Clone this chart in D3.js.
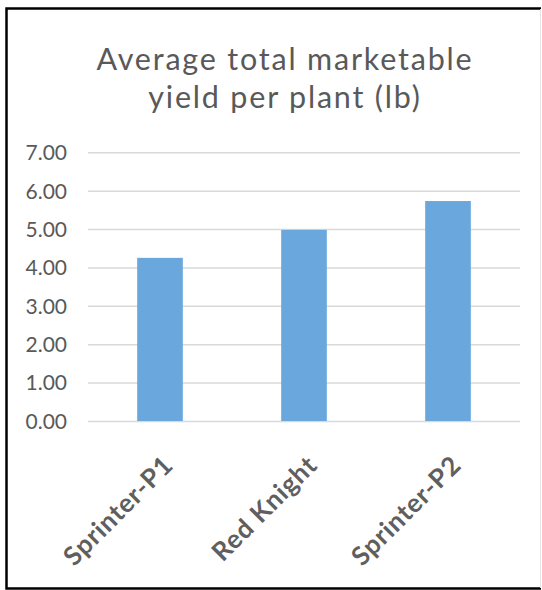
<!DOCTYPE html>
<html>
<head>
<meta charset="utf-8">
<script src="https://cdn.jsdelivr.net/npm/d3@7"></script>
<style>
  body { margin: 0; background: #fff; }
  svg { display: block; font-family: Lato, "Open Sans", sans-serif; }
</style>
</head>
<body>
<div id="chart"></div>
<script>
// data
const categories = ["Sprinter-P1", "Red Knight", "Sprinter-P2"]
const yieldValues = [4.25, 4.98, 5.73]
const yTicks = [0, 1, 2, 3, 4, 5, 6, 7]
const titleLines = ["Average total marketable", "yield per plant (lb)"]

const width = 542
const height = 590

const svg = d3.select("#chart")
    .append("svg")
    .attr("width", width)
    .attr("height", height)

// frame: black left/top/bottom, faint gray right
svg.append("rect")
    .attr("x", 0).attr("y", 0)
    .attr("width", width).attr("height", height)
    .attr("fill", "#fff")

svg.append("path")
    .attr("d", "M 541 8.5 L 6.5 8.5 L 6.5 588.5 L 541 588.5")
    .attr("fill", "none")
    .attr("stroke", "#000")
    .attr("stroke-width", 2.5)

svg.append("line")
    .attr("x1", 540.5).attr("x2", 540.5)
    .attr("y1", 9).attr("y2", 588)
    .attr("stroke", "#e4e4e4")
    .attr("stroke-width", 1)

// title
svg.append("g")
    .selectAll("text")
    .data(titleLines)
    .enter()
    .append("text")
    .attr("x", 285)
    .attr("y", (d, i) => 70 + i * 37.5)
    .attr("text-anchor", "middle")
    .attr("font-size", "30.5px")
    .attr("letter-spacing", "1.8px")
    .attr("fill", "#595959")
    .text((d) => d)

const plotLeft = 88
const plotRight = 520

const x = d3.scaleBand()
    .domain(categories)
    .range([plotLeft, plotRight])
    .paddingInner(0.683)
    .paddingOuter(0.683 / 2)

const y = d3.scaleLinear()
    .domain([0, 7])
    .range([421, 152.3])

// gridlines
svg.append("g")
    .call(d3.axisLeft(y)
        .tickValues(yTicks)
        .tickSize(-(plotRight - plotLeft))
        .tickFormat(""))
    .attr("transform", "translate(" + plotLeft + ",0)")
    .call((g) => g.select(".domain").remove())
    .call((g) => g.selectAll(".tick line")
        .attr("stroke", "#d9d9d9")
        .attr("stroke-width", 1.5))

// y tick labels
svg.append("g")
    .call(d3.axisLeft(y)
        .tickValues(yTicks)
        .tickSize(0)
        .tickPadding(0)
        .tickFormat(d3.format(".2f")))
    .attr("transform", "translate(67,0)")
    .call((g) => g.select(".domain").remove())
    .call((g) => g.selectAll(".tick text")
        .attr("font-family", "Lato, sans-serif")
        .attr("font-size", "21px")
        .attr("fill", "#595959")
        .attr("dy", "0.35em"))

// category labels, rotated
svg.append("g")
    .selectAll("text")
    .data(categories)
    .enter()
    .append("text")
    .attr("transform", (d) => "translate(" + (x(d) + x.bandwidth() / 2 + 1) + ",453) rotate(-45)")
    .attr("text-anchor", "end")
    .attr("dy", "0.75em")
    .attr("font-size", "26px")
    .attr("letter-spacing", "0.8px")
    .attr("font-weight", "bold")
    .attr("fill", "#5f5f5f")
    .text((d) => d)

// bars
svg.append("g")
    .selectAll("rect")
    .data(categories)
    .enter()
    .append("rect")
    .attr("x", (d) => x(d))
    .attr("y", (d, i) => y(yieldValues[i]))
    .attr("width", x.bandwidth())
    .attr("height", (d, i) => y(0) - y(yieldValues[i]))
    .attr("fill", "#6aa7dc")
</script>
</body>
</html>
